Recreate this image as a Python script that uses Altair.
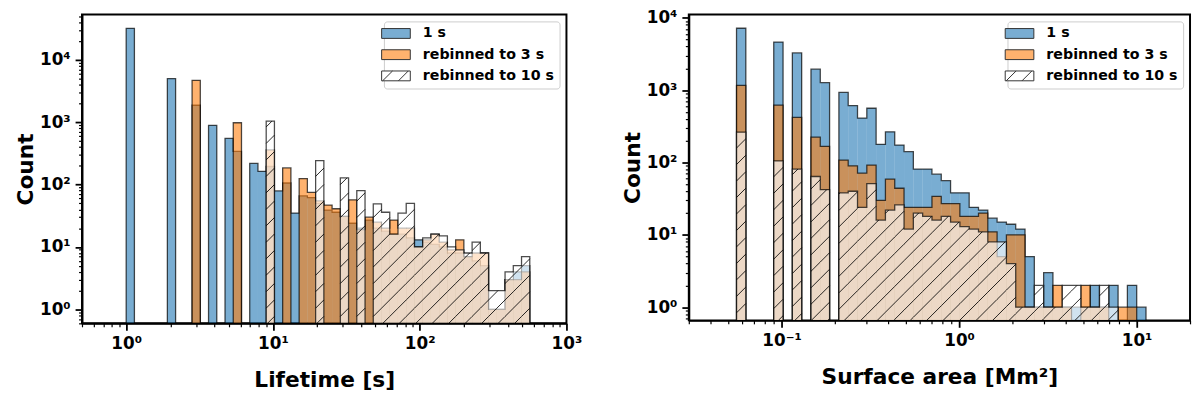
import math
import numpy as np
import pandas as pd
import altair as alt

SERIES = ["1 s", "rebinned to 3 s", "rebinned to 10 s"]

# ---------------- Left panel: lifetime histogram (49 log bins) ----------------
LT_LOG_RANGE = (0.0, 2.75)
LT_NBINS = 49
lt_1s = [32000, 0, 0, 0, 0, 5000, 0, 0, 1870, 0, 890, 0, 550, 340, 0, 218, 163, 195, 79, 106,
         35, 66, 62, 50, 39, 36, 31, 24, 20, 27, 20, 18, 16, 16, 14, 13, 12, 11, 10, 8,
         8, 7, 6, 5, 1, 1, 3, 4, 5]
lt_3s = [0, 0, 0, 0, 0, 0, 0, 0, 4700, 0, 0, 0, 0, 980, 0, 0, 0, 360, 0, 185,
         0, 125, 75, 55, 47, 41, 31, 57, 19, 30, 25, 20, 27, 20, 20, 10, 13, 16, 12, 9,
         13, 7, 8, 8, 1, 1, 3, 3, 4]
lt_10s = [0, 0, 0, 0, 0, 0, 0, 0, 0, 0, 0, 0, 0, 0, 0, 0, 0, 1040, 0, 0,
          0, 0, 0, 243, 0, 0, 128, 0, 80, 0, 49, 36, 16, 35, 50, 10, 14, 16, 15, 10,
          9, 8, 12, 8, 2, 2, 4, 5, 7]
LT_XDOM = [0.5, 1000]
LT_YDOM = [0.596, 53300]

# ---------------- Right panel: surface area histogram (44 log bins) ----------------
SA_LOG_RANGE = (-1.254, 1.053)
SA_NBINS = 44
sa_1s = [7170, 0, 0, 0, 4620, 0, 3270, 0, 1950, 1270, 0, 930, 612, 411, 562, 178, 265, 174, 141, 81,
         81, 69, 56, 38, 38, 24, 22, 17, 15, 14, 12, 5, 1, 3, 1, 1, 1, 1, 2, 1,
         2, 0, 2, 1]
sa_3s = [1160, 0, 0, 0, 620, 0, 420, 0, 224, 167, 0, 108, 90, 71, 92, 30, 59, 44, 24, 24,
         24, 34, 27, 27, 18, 18, 20, 11, 5, 10, 10, 1, 1, 1, 2, 1, 0, 2, 1, 1,
         0, 1, 1, 0]
sa_10s = [262, 0, 0, 0, 105, 0, 81, 0, 64, 42, 0, 38, 40, 24, 51, 16, 22, 26, 12, 20,
          18, 16, 18, 15, 13, 12, 11, 8, 8, 4, 1, 1, 2, 1, 1, 2, 2, 1, 1, 2,
          1, 0, 0, 0]
SA_XDOM = [0.03, 20]
SA_YDOM = [0.656, 11100]

FONT = "DejaVu Sans"
FILL_1S = "#1f77b4"
FILL_3S = "#ff7f0e"
LEGEND_FILLS = ["#79add2", "#ffb26e", "#ffffff"]
RECT_PATH = "M-2.42,-0.83L2.42,-0.83L2.42,0.83L-2.42,0.83Z"
HATCH_PATH = RECT_PATH + "M-2.25,0.83L-0.58,-0.83M0.42,0.83L2.08,-0.83"
LEGEND_SHAPES = [RECT_PATH, RECT_PATH, HATCH_PATH]
HATCH_SPACING = 16.7

SUP = {"-": "\u207b", "0": "\u2070", "1": "\u00b9", "2": "\u00b2", "3": "\u00b3", "4": "\u2074"}


def decade_label(v):
    e = int(round(math.log10(v)))
    return "10" + "".join(SUP[ch] for ch in str(e))


def log_axis(major, minor, title, label_pad, title_pad):
    vals = sorted(set(float(v) for v in list(major) + list(minor)))
    test = " || ".join(f"datum.value == {float(v)!r}" for v in major)
    expr = "''"
    for v in reversed(major):
        expr = f"datum.value == {float(v)!r} ? '{decade_label(v)}' : {expr}"
    return alt.Axis(
        values=vals, labelExpr=expr, title=title, grid=False, zindex=1,
        tickSize={"condition": {"test": test, "value": 7}, "value": 3.5},
        tickWidth={"condition": {"test": test, "value": 1.8}, "value": 1.2},
        tickColor="black", domainColor="black", domainWidth=2,
        labelFont=FONT, labelFontSize=17, labelFontWeight="bold", labelColor="black",
        labelPadding=label_pad, labelFlush=False, labelOverlap=False,
        titleFont=FONT, titleFontSize=22, titleFontWeight="bold", titleColor="black",
        titlePadding=title_pad,
    )


def minor_ticks(lo_exp, hi_exp, lo_val, hi_val):
    out = []
    for e in range(lo_exp, hi_exp + 1):
        for m in range(2, 10):
            v = round(m * 10 ** e, 6)
            if lo_val <= v <= hi_val:
                out.append(v)
    return out


def outline_rows(lo, hi, counts, base, tag):
    rows, run, i, n = [], 0, 0, len(counts)
    while i < n:
        if counts[i] > 0:
            j = i
            while j + 1 < n and counts[j + 1] > 0:
                j += 1
            pts = [(lo[i], base), (lo[i], counts[i])]
            for k in range(i, j + 1):
                pts.append((hi[k], counts[k]))
                if k < j:
                    pts.append((hi[k], counts[k + 1]))
            pts.append((hi[j], base))
            for o, (x, y) in enumerate(pts):
                rows.append({"x": x, "y": y, "order": o, "run": f"{tag}-{run}"})
            run += 1
            i = j + 1
        else:
            i += 1
    return pd.DataFrame(rows)


def hatch_rows(lo, hi, counts, xdom, ydom, W, H, s):
    lx0, lx1 = math.log10(xdom[0]), math.log10(xdom[1])
    ly0, ly1 = math.log10(ydom[0]), math.log10(ydom[1])
    px = lambda v: (math.log10(v) - lx0) / (lx1 - lx0) * W
    py = lambda v: (ly1 - math.log10(v)) / (ly1 - ly0) * H
    ix = lambda p: 10 ** (lx0 + p / W * (lx1 - lx0))
    iy = lambda p: 10 ** (ly1 - p / H * (ly1 - ly0))
    rows = []
    for a, b, c in zip(lo, hi, counts):
        if c <= 0:
            continue
        x0, x1 = px(a), px(b)
        yt, yb = max(py(c), 0.0), H
        for k in range(int(math.floor((x0 + yt) / s)), int(math.ceil((x1 + yb) / s)) + 1):
            cc = k * s
            xa, xb = max(x0, cc - yb), min(x1, cc - yt)
            if xb - xa > 0.05:
                rows.append({"x": ix(xa), "y": iy(cc - xa), "x2": ix(xb), "y2": iy(cc - xb)})
    return pd.DataFrame(rows)


def panel(log_range, nbins, c1, c3, c10, xdom, ydom, W, H, xtitle,
          xmajor, xminor, ymajor, yminor):
    edges = 10 ** np.linspace(log_range[0], log_range[1], nbins + 1)
    lo, hi = edges[:-1], edges[1:]
    base = ydom[0] / 10.0

    xs = alt.Scale(type="log", domain=xdom, nice=False, zero=False)
    ys = alt.Scale(type="log", domain=ydom, nice=False, zero=False)
    xax = log_axis(xmajor, xminor, xtitle, 5, 19)
    yax = log_axis(ymajor, yminor, "Count", 5, 2)

    def X(f="x"):
        return alt.X(f"{f}:Q", scale=xs, axis=xax)

    def Y(f="y"):
        return alt.Y(f"{f}:Q", scale=ys, axis=yax)

    def bars(counts):
        df = pd.DataFrame({"x": lo, "x2": hi, "y": counts, "y2": base})
        return df[df["y"] > 0]

    layers = []
    for counts, color, op, tag in [(c1, FILL_1S, 0.6, "a"), (c3, FILL_3S, 0.6, "b"), (c10, "#ffffff", 0.65, "c")]:
        layers.append(
            alt.Chart(bars(counts)).mark_rect(fill=color, opacity=op, clip=True)
            .encode(x=X(), x2="x2:Q", y=Y(), y2="y2:Q")
        )
        if tag == "c":
            hdf = hatch_rows(lo, hi, counts, xdom, ydom, W, H, HATCH_SPACING)
            layers.append(
                alt.Chart(hdf).mark_rule(color="black", strokeWidth=1, opacity=0.85, clip=True)
                .encode(x=X(), x2="x2:Q", y=Y(), y2="y2:Q")
            )
        layers.append(
            alt.Chart(outline_rows(lo, hi, counts, base, tag))
            .mark_line(color="black", strokeWidth=1.3, opacity=0.7, clip=True, interpolate="linear")
            .encode(x=X(), y=Y(), order=alt.Order("order:Q"), detail=alt.Detail("run:N"))
        )

    leg = alt.Legend(
        title=None, orient="top-right", offset=7, padding=5, cornerRadius=3,
        fillColor="rgba(255,255,255,0.8)", strokeColor="#cccccc",
        labelFont=FONT, labelFontSize=14.4, labelFontWeight="bold", labelColor="black",
        labelOffset=20, rowPadding=5.5, symbolSize=144,
        symbolStrokeWidth=1, symbolOpacity=1,
    )
    layers.append(
        alt.Chart(pd.DataFrame({"series": SERIES}))
        .mark_point(filled=True)
        .encode(
            fill=alt.Fill("series:N", scale=alt.Scale(domain=SERIES, range=LEGEND_FILLS), legend=leg),
            shape=alt.Shape("series:N", scale=alt.Scale(domain=SERIES, range=LEGEND_SHAPES), legend=leg),
            stroke=alt.Stroke("series:N", scale=alt.Scale(domain=SERIES, range=["#333333"] * 3), legend=leg),
        )
        .transform_filter("false")
    )
    return alt.layer(*layers).properties(width=W, height=H)


left = panel(
    LT_LOG_RANGE, LT_NBINS, lt_1s, lt_3s, lt_10s, LT_XDOM, LT_YDOM, 491, 313, "Lifetime [s]",
    [1, 10, 100, 1000], [0.5, 0.6, 0.7, 0.8, 0.9] + minor_ticks(0, 2, 0.5, 1000),
    [1, 10, 100, 1000, 10000], minor_ticks(-1, 4, 0.596, 53300),
)
right = panel(
    SA_LOG_RANGE, SA_NBINS, sa_1s, sa_3s, sa_10s, SA_XDOM, SA_YDOM, 508, 310, "Surface area [Mm\u00b2]",
    [0.1, 1, 10], minor_ticks(-2, 1, 0.03, 20),
    [1, 10, 100, 1000, 10000], minor_ticks(-1, 3, 0.656, 11100),
)

chart = (
    alt.hconcat(left, right, spacing=37)
    .resolve_scale(fill="independent", shape="independent", stroke="independent")
    .properties(padding={"left": 5, "top": -5, "right": 0, "bottom": 0})
    .configure_view(stroke="black", strokeWidth=2)
)

chart.save("out.html", embed_options={"renderer": "svg", "actions": False})
